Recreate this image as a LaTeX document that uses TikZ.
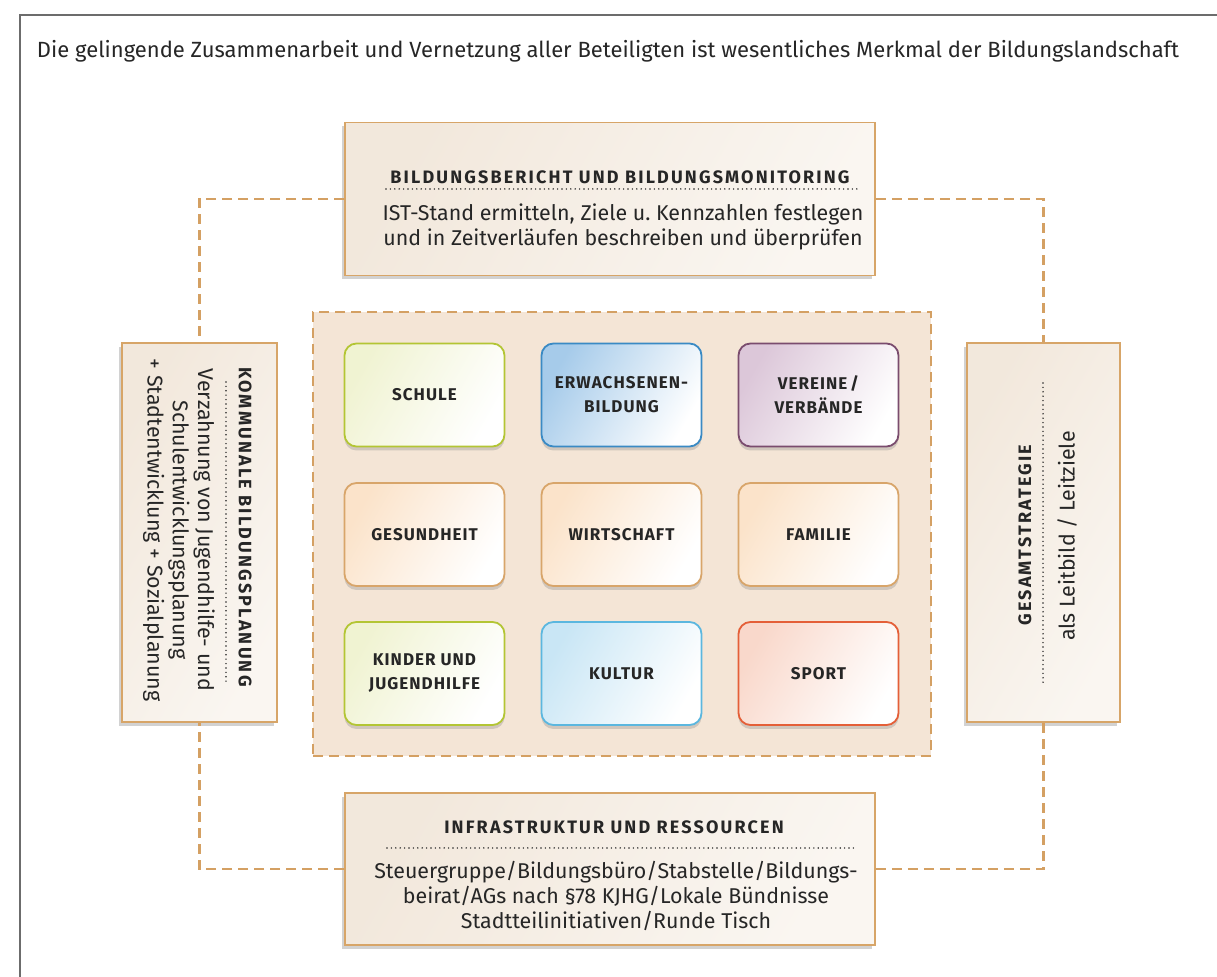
\documentclass[tikz,border=0pt]{standalone}
\usepackage{fontspec}
\setmainfont{Fira Sans}
\newfontfamily\headfont[LetterSpace=12]{Fira Sans}
\newfontfamily\tilefont[LetterSpace=6]{Fira Sans}
\usetikzlibrary{shadows}
\definecolor{rim}{HTML}{D7A568}
\definecolor{linkc}{HTML}{D4A063}
\definecolor{paperl}{HTML}{F2E8DC}
\definecolor{paperr}{HTML}{FAF6F1}
\definecolor{field}{HTML}{F4E5D6}
\definecolor{ink}{HTML}{262626}
\definecolor{gline}{HTML}{B3C534}
\definecolor{gfill}{HTML}{F0F3D2}
\definecolor{bline}{HTML}{3A8AC4}
\definecolor{bfill}{HTML}{A6CBEA}
\definecolor{pline}{HTML}{7A4C6E}
\definecolor{pfill}{HTML}{DCC7D9}
\definecolor{oline}{HTML}{D8A56A}
\definecolor{ofill}{HTML}{FBE3CA}
\definecolor{lline}{HTML}{5BB7DF}
\definecolor{lfill}{HTML}{C9E6F5}
\definecolor{rline}{HTML}{E45F38}
\definecolor{rfill}{HTML}{F9D8CB}
\tikzstyle{panel}=[draw=rim, line width=0.8pt, left color=paperl, right color=paperr, shading angle=60, drop shadow={shadow xshift=-1.5pt, shadow yshift=-2pt, opacity=0.35}]
\tikzstyle{head}=[text=ink, font=\headfont\bfseries\fontsize{9}{11}\selectfont]
\tikzstyle{body}=[text=ink, align=center, font=\fontsize{10.7}{12.6}\selectfont]
\tikzstyle{dots}=[line width=0.8pt, line cap=round, dash pattern=on 0pt off 2.2pt, ink]
\tikzstyle{link}=[draw=linkc, line width=1.3pt, dash pattern=on 5pt off 3pt]
\tikzstyle{tile}=[draw, line width=0.9pt, rounded corners=6pt, minimum width=80pt, minimum height=51.5pt, inner sep=0pt, align=center, text=ink, font=\tilefont\bfseries\fontsize{8.5}{12}\selectfont, drop shadow={shadow xshift=0pt, shadow yshift=-2pt, opacity=0.3}]
\tikzstyle{gtile}=[tile, draw=gline, left color=gfill, right color=white, shading angle=60]
\tikzstyle{btile}=[tile, draw=bline, left color=bfill, right color=white, shading angle=60]
\tikzstyle{ptile}=[tile, draw=pline, left color=pfill, right color=white, shading angle=60]
\tikzstyle{otile}=[tile, draw=oline, left color=ofill, right color=white, shading angle=60]
\tikzstyle{ltile}=[tile, draw=lline, left color=lfill, right color=white, shading angle=60]
\tikzstyle{rtile}=[tile, draw=rline, left color=rfill, right color=white, shading angle=60]

\begin{document}
\begin{tikzpicture}[x=0.5pt, y=-0.5pt]
        \useasboundingbox[fill=white] (0,0) rectangle (1217,977);
        \draw[gray!85!black, line width=1pt] (1217,15) -- (20,15) -- (20,977);
        \node[text=ink, font=\fontsize{11}{13}\selectfont] (title) at (608,51) {Die gelingende Zusammenarbeit und Vernetzung aller Beteiligten ist wesentliches Merkmal der Bildungslandschaft};

        % the four frame boxes
        \node[panel, minimum width=265pt, minimum height=76.5pt] (bericht) at (610,199) {};
        \node[panel, minimum width=265pt, minimum height=76pt] (infra) at (610,869) {};
        \node[panel, minimum width=77.5pt, minimum height=189.5pt] (planung) at (199.5,532.5) {};
        \node[panel, minimum width=76.5pt, minimum height=189.5pt] (strategie) at (1043.5,532.5) {};

        \draw[link] (bericht.west) -| (planung.north);
        \draw[link] (bericht.east) -| (strategie.north);
        \draw[link] (infra.west) -| (planung.south);
        \draw[link] (infra.east) -| (strategie.south);

        \node[head] (berichthead) at (620,177) {BILDUNGSBERICHT UND BILDUNGSMONITORING};
        \draw[dots] (386,189) -- (857,189);
        \node[body] (berichttext) at (623,227) {IST-Stand ermitteln, Ziele u.\ Kennzahlen festlegen\\und in Zeitverläufen beschreiben und überprüfen};

        \node[head] (infrahead) at (614,827) {INFRASTRUKTUR UND RESSOURCEN};
        \draw[dots] (387,848) -- (857,848);
        \node[body] (infratext) at (616,896) {Steuergruppe/Bildungsbüro/Stabstelle/Bildungs-\\beirat/AGs nach §78 KJHG/Lokale Bündnisse\\Stadtteilinitiativen/Runde Tisch};

        \node[head, rotate=-90] (planunghead) at (245,527) {KOMMUNALE BILDUNGSPLANUNG};
        \draw[dots] (226,382) -- (226,682);
        \node[body, rotate=-90] (planungtext) at (179,530) {Verzahnung von Jugendhilfe- und\\Schulentwicklungsplanung\\+ Stadtentwicklung + Sozialplanung};

        \node[head, rotate=90] (strategiehead) at (1025,535) {GESAMTSTRATEGIE};
        \draw[dots] (1043,383) -- (1043,683);
        \node[body, rotate=90] (strategietext) at (1067,536) {als Leitbild / Leitziele};

        % the actors in the middle
        \node[draw=linkc, line width=1.3pt, dash pattern=on 5pt off 3pt, fill=field, minimum width=309pt, minimum height=222pt] (netz) at (622,534) {};
        \node[gtile] (schule) at (424.5,395) {SCHULE};
        \node[btile] (erwachsene) at (621.5,395) {ERWACHSENEN-\\BILDUNG};
        \node[ptile] (vereine) at (818.5,395) {VEREINE\,/\\VERBÄNDE};
        \node[otile] (gesundheit) at (424.5,534.5) {GESUNDHEIT};
        \node[otile] (wirtschaft) at (621.5,534.5) {WIRTSCHAFT};
        \node[otile] (familie) at (818.5,534.5) {FAMILIE};
        \node[gtile] (kinder) at (424.5,673.5) {KINDER UND\\JUGENDHILFE};
        \node[ltile] (kultur) at (621.5,673.5) {KULTUR};
        \node[rtile] (sport) at (818.5,673.5) {SPORT};
    \end{tikzpicture}
\end{document}
